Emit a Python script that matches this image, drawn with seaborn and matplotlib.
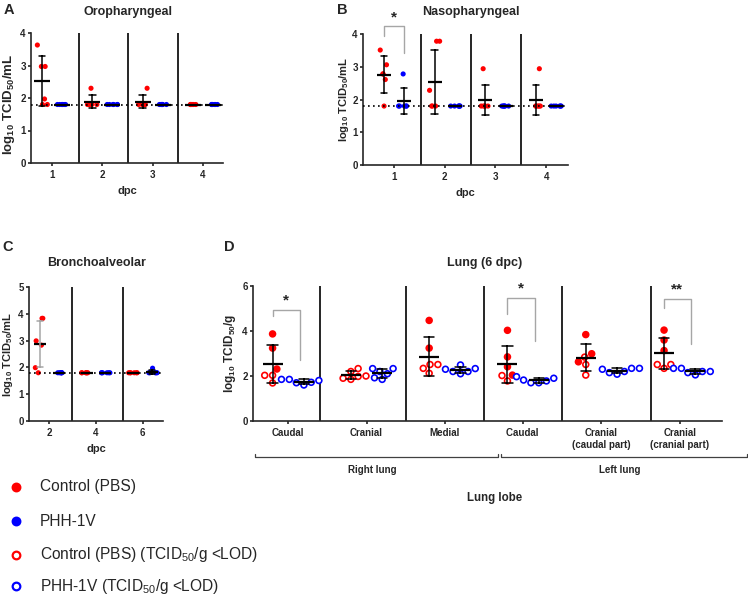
import numpy as np
import pandas as pd
import matplotlib.pyplot as plt
from matplotlib.lines import Line2D
import seaborn as sns

# Data (log10 TCID50)
groups = ['Control', 'PHH']
LOD = 1.8

# A: oropharyngeal swabs
oro_dpc = ['1', '2', '3', '4']
oro_control = [[3.63, 2.97, 2.97, 1.97, 1.80, 1.80],
               [2.30, 1.80, 1.80, 1.80, 1.80, 1.80],
               [2.30, 1.80, 1.80, 1.80, 1.80, 1.80],
               [1.80, 1.80, 1.80, 1.80, 1.80, 1.80]]
oro_phh = [[1.80, 1.80, 1.80, 1.80, 1.80, 1.80],
           [1.80, 1.80, 1.80, 1.80, 1.80, 1.80],
           [1.80, 1.80, 1.80, 1.80, 1.80, 1.80],
           [1.80, 1.80, 1.80, 1.80, 1.80, 1.80]]

# B: nasopharyngeal swabs
naso_dpc = ['1', '2', '3', '4']
naso_control = [[3.51, 3.06, 2.78, 2.78, 2.61, 1.80],
                [3.78, 3.78, 2.28, 1.80, 1.80, 1.80],
                [2.94, 1.80, 1.80, 1.80, 1.80, 1.80],
                [2.94, 1.80, 1.80, 1.80, 1.80, 1.80]]
naso_phh = [[2.78, 1.80, 1.80, 1.80, 1.80, 1.80],
            [1.80, 1.80, 1.80, 1.80, 1.80, 1.80],
            [1.80, 1.80, 1.80, 1.80, 1.80, 1.80],
            [1.80, 1.80, 1.80, 1.80, 1.80, 1.80]]

# C: bronchoalveolar lavage
bal_dpc = ['2', '4', '6']
bal_control = [[3.83, 3.83, 2.99, 2.83, 1.99, 1.80],
               [1.80, 1.80, 1.80, 1.80, 1.80, 1.80],
               [1.80, 1.80, 1.80, 1.80, 1.80, 1.80]]
bal_phh = [[1.80, 1.80, 1.80, 1.80, 1.80, 1.80],
           [1.80, 1.80, 1.80, 1.80, 1.80, 1.80],
           [1.97, 1.80, 1.80, 1.80, 1.80, 1.80]]

# D: lung lobes at 6 dpc (open = below LOD)
lobes = ['Caudal', 'Cranial', 'Medial', 'Caudal ', 'Cranial\n(caudal part)', 'Cranial\n(cranial part)']
lung_control = [[3.87, 3.24, 2.31, 2.03, 2.03, 1.69],
                [2.33, 2.20, 2.00, 1.98, 1.90, 1.85],
                [4.47, 3.24, 2.51, 2.51, 2.34, 2.12],
                [4.03, 2.85, 2.41, 2.04, 2.02, 1.78],
                [3.84, 2.99, 2.84, 2.63, 2.51, 2.04],
                [4.04, 3.60, 3.13, 2.51, 2.51, 2.34]]
lung_control_open = [[0, 0, 0, 1, 1, 1],
                     [1, 1, 1, 1, 1, 1],
                     [0, 0, 1, 1, 1, 1],
                     [0, 0, 0, 0, 1, 1],
                     [0, 0, 1, 0, 1, 1],
                     [0, 0, 0, 1, 1, 1]]
lung_phh = [[1.85, 1.85, 1.80, 1.72, 1.70, 1.60],
            [2.33, 2.33, 2.20, 2.10, 1.92, 1.85],
            [2.49, 2.33, 2.30, 2.20, 2.20, 2.10],
            [1.97, 1.90, 1.82, 1.78, 1.70, 1.70],
            [2.34, 2.34, 2.30, 2.20, 2.15, 2.08],
            [2.34, 2.34, 2.20, 2.20, 2.15, 2.05]]
lung_phh_open = [[1, 1, 1, 1, 1, 1] for _ in lobes]

legend_labels = ['Control (PBS)', 'PHH-1V',
                 r'Control (PBS) (TCID$_{50}$/g <LOD)', r'PHH-1V (TCID$_{50}$/g <LOD)']

RED = '#ff0000'
BLUE = '#0000ff'
pal = {'Control': RED, 'PHH': BLUE}
black = {'Control': 'black', 'PHH': 'black'}

sns.set_style("ticks")
plt.rcParams['font.family'] = ['Liberation Sans', 'DejaVu Sans']
plt.rcParams['mathtext.fontset'] = 'custom'
plt.rcParams['mathtext.rm'] = 'Liberation Sans'
plt.rcParams['mathtext.bf'] = 'Liberation Sans:bold'
plt.rcParams['mathtext.it'] = 'Liberation Sans:italic'
plt.rcParams['axes.linewidth'] = 1.2
plt.rcParams['xtick.major.width'] = 1.2
plt.rcParams['ytick.major.width'] = 1.2
plt.rcParams['xtick.major.size'] = 2.5
plt.rcParams['ytick.major.size'] = 2.2
plt.rcParams['xtick.major.pad'] = 2.5
plt.rcParams['ytick.major.pad'] = 1.5
np.random.seed(7)


def to_long(cats, control, phh, control_open=None, phh_open=None):
    rows = []
    for i, c in enumerate(cats):
        for j, v in enumerate(control[i]):
            rows.append((c, 'Control', v, control_open[i][j] if control_open else 0))
        for j, v in enumerate(phh[i]):
            rows.append((c, 'PHH', v, phh_open[i][j] if phh_open else 0))
    return pd.DataFrame(rows, columns=['cat', 'group', 'value', 'open'])


W, H = 748, 597
fig = plt.figure(figsize=(W / 100, H / 100), dpi=100)
trF = fig.transFigure


def box(l, t, r, b):
    return [l / W, 1 - b / H, (r - l) / W, (b - t) / H]


def ftext(x, y, s, **kw):
    fig.text(x / W, 1 - y / H, s, ha=kw.pop('ha', 'center'), va=kw.pop('va', 'center'), **kw)


def draw_means(ax, df, order, mean_size):
    sns.pointplot(data=df, x='cat', y='value', hue='group', order=order, hue_order=groups,
                  palette=black, dodge=0.4, errorbar='sd', capsize=0.13, markers='_',
                  markersize=mean_size, markeredgewidth=1.6, linestyle='none',
                  err_kws={'linewidth': 1.1}, legend=False, ax=ax)


def draw_swab(ax, df, order, mean_size):
    sns.stripplot(data=df, x='cat', y='value', hue='group', order=order, hue_order=groups,
                  palette=pal, dodge=True, jitter=0.22, size=3.7, linewidth=0,
                  legend=False, ax=ax, zorder=2)
    draw_means(ax, df, order, mean_size)


def style(ax, ymax, yticks, xlim, dividers, lod=True):
    ax.set_ylim(0, ymax)
    ax.set_yticks(yticks)
    ax.set_xlim(*xlim)
    for d in dividers:
        ax.axvline(d, color='black', lw=1.2, zorder=1)
    if lod:
        ax.axhline(LOD, color='black', ls=(0, (1, 2)), lw=1.2, zorder=3)
    sns.despine(ax=ax)
    ax.tick_params(labelsize=7)
    for lab in ax.get_xticklabels() + ax.get_yticklabels():
        lab.set_fontweight('bold')
    ax.set_xlabel('')
    ax.set_ylabel('')


ylab_ml = r'log$_{\mathbf{10}}$ TCID$_{\mathbf{50}}$/mL'

# ---- A
axA = fig.add_axes(box(31, 33, 223, 163))
draw_swab(axA, to_long(oro_dpc, oro_control, oro_phh), oro_dpc, 12)
style(axA, 4, [0, 1, 2, 3, 4], (-0.42, 3.4), [0.54, 1.5, 2.5])
axA.set_ylabel(ylab_ml, fontsize=9.5, fontweight='bold')
axA.yaxis.set_label_coords(-0.075, 0.45)
axA.set_xlabel('dpc', fontsize=8, fontweight='bold')

# ---- B
axB = fig.add_axes(box(363, 34, 568, 165))
draw_swab(axB, to_long(naso_dpc, naso_control, naso_phh), naso_dpc, 10)
style(axB, 4, [0, 1, 2, 3, 4], (-0.61, 3.43), [0.53, 1.51, 2.51])
axB.set_ylabel(ylab_ml, fontsize=8, fontweight='bold')
axB.yaxis.set_label_coords(-0.06, 0.5)
axB.set_xlabel('dpc', fontsize=8, fontweight='bold')
axB.plot([-0.2, -0.2, 0.2, 0.2], [3.94, 4.24, 4.24, 3.42], color='#a6a6a6', lw=1, clip_on=False)
axB.text(0, 4.5, '*', ha='center', va='center', fontsize=11, fontweight='bold')

# ---- C
axC = fig.add_axes(box(29, 287, 163, 421))
draw_swab(axC, to_long(bal_dpc, bal_control, bal_phh), bal_dpc, 9)
style(axC, 5, [0, 1, 2, 3, 4, 5], (-0.43, 2.43), [0.49, 1.57])
axC.set_ylabel(ylab_ml, fontsize=8, fontweight='bold')
axC.yaxis.set_label_coords(-0.105, 0.5)
axC.set_xlabel('dpc', fontsize=8, fontweight='bold')
for line in axC.lines:
    xd = np.asarray(line.get_xdata(), dtype=float)
    if len(xd) > 2 and abs(np.nanmean(xd) + 0.2) < 0.02:
        line.set_color('#a6a6a6')

# ---- D
axD = fig.add_axes(box(253, 286, 722, 421))
dfD = to_long(lobes, lung_control, lung_phh, lung_control_open, lung_phh_open)
sns.swarmplot(data=dfD, x='cat', y='value', hue='group', order=lobes, hue_order=groups,
              palette=pal, dodge=True, size=4.2, linewidth=0, legend=False, ax=axD, zorder=2)
draw_means(axD, dfD, lobes, 14)
style(axD, 6, [0, 2, 4, 6], (-0.45, 5.54), [0.4, 1.5, 2.5, 3.5, 4.63], lod=False)
axD.set_ylabel(r'log$_{\mathbf{10}}$ TCID$_{\mathbf{50}}$/g', fontsize=8.5, fontweight='bold')
axD.yaxis.set_label_coords(-0.033, 0.5)

# open markers for values below LOD
for coll in axD.collections:
    offs = coll.get_offsets()
    if len(offs) == 0:
        continue
    ci = int(round(np.mean(offs[:, 0])))
    grp = 'Control' if np.mean(offs[:, 0]) < ci else 'PHH'
    sub = dfD[(dfD['cat'] == lobes[ci]) & (dfD['group'] == grp)]
    vals = list(zip(sub['value'], sub['open']))
    col = pal[grp]
    faces, edges = [], []
    for y in offs[:, 1]:
        k = int(np.argmin([abs(v - y) for v, _ in vals]))
        _, is_open = vals.pop(k)
        faces.append('white' if is_open else col)
        edges.append(col)
    coll.set_facecolors(faces)
    coll.set_edgecolors(edges)
    coll.set_linewidths(1.2)
    coll.set_zorder(2)

brackets = [(0, 4.95, 4.65, 2.70, '*'), (3, 5.48, 4.77, 3.56, '*'), (5, 5.44, 5.04, 3.41, '**')]
for ci, top, yl, yr, lab in brackets:
    axD.plot([ci - 0.2, ci - 0.2, ci + 0.15, ci + 0.15], [yl, top, top, yr],
             color='#a6a6a6', lw=1, clip_on=False)
    axD.text(ci - 0.03, top + 0.42, lab, ha='center', va='center', fontsize=11, fontweight='bold')

# lung side brackets below the axis
for x0, x1, lab in [(255, 498, 'Right lung'), (501, 747, 'Left lung')]:
    fig.add_artist(Line2D([x0 / W, x0 / W, x1 / W, x1 / W],
                          [1 - 454 / H, 1 - 457 / H, 1 - 457 / H, 1 - 454 / H],
                          color='#404040', lw=0.9, transform=trF))
    ftext((x0 + x1) / 2 - 4, 470, lab, fontsize=7, fontweight='bold')
ftext(495, 498, 'Lung lobe', fontsize=8.3, fontweight='bold')

# titles and panel letters
ftext(128, 12, 'Oropharyngeal', fontsize=9, fontweight='bold')
ftext(471, 12, 'Nasopharyngeal', fontsize=9, fontweight='bold')
ftext(97, 263, 'Bronchoalveolar', fontsize=9, fontweight='bold')
ftext(485, 263, 'Lung (6 dpc)', fontsize=9, fontweight='bold')
ftext(9, 10, 'A', fontsize=10.5, fontweight='bold')
ftext(342, 10, 'B', fontsize=10.5, fontweight='bold')
ftext(8, 247, 'C', fontsize=10.5, fontweight='bold')
ftext(229, 247, 'D', fontsize=10.5, fontweight='bold')

# legend entries (marker + label) at the lower left
legend_styles = [(RED, RED), (BLUE, BLUE), ('white', RED), ('white', BLUE)]
for (face, edge), lab, y in zip(legend_styles, legend_labels, [487, 521, 555, 586]):
    fig.add_artist(Line2D([16 / W], [1 - y / H], marker='o', ls='none', markersize=5.5,
                          markerfacecolor=face, markeredgecolor=edge,
                          markeredgewidth=1.6, transform=trF))
    ftext(40, y, lab, ha='left', fontsize=11.2)

fig.savefig('out.png', dpi=100)
